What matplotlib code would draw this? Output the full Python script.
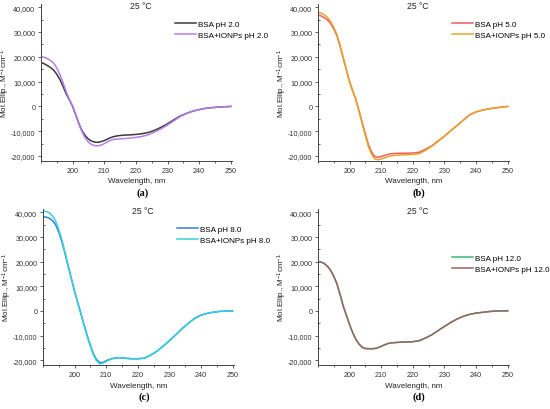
import matplotlib
matplotlib.use("Agg")
import matplotlib.pyplot as plt
from matplotlib.ticker import MultipleLocator, FuncFormatter

plt.rcParams['font.family'] = ['Liberation Sans', 'DejaVu Sans']
plt.rcParams['mathtext.default'] = 'regular'

# wavelength grid, nm (1 nm steps in the steep part, 2 nm after)
wl = [190, 191, 192, 193, 194, 195, 196, 197, 198, 199, 200, 201, 202, 203, 204, 205,
      206, 207, 208, 209, 210, 211, 212, 213, 214,
      216, 218, 220, 222, 224, 226, 228, 230, 232, 234, 236, 238, 240, 242, 244, 246, 248, 250]

# (a) pH 2.0
bsa_ph2 = [17800, 17200, 16500, 15700, 14600, 13000, 10800, 8000, 5000, 2600, 0, -3500,
           -7000, -9900, -11800, -13200, -14000, -14400, -14500, -14200, -13800, -13200,
           -12600, -12200, -11900,
           -11600, -11500, -11300, -11000, -10500, -9600, -8400, -7000, -5400, -3900, -2800,
           -1900, -1300, -800, -500, -300, -150, 0]
ionp_ph2 = [20200, 19800, 19300, 18500, 17500, 15500, 12800, 9500, 5800, 2800, 300, -3300,
            -7200, -10300, -12800, -14400, -15400, -15800, -15900, -15600, -15000, -14300,
            -13700, -13300, -13200,
            -13000, -12800, -12500, -12100, -11400, -10300, -9000, -7500, -5800, -4100, -2900,
            -1900, -1300, -800, -500, -300, -150, 0]

# (b) pH 5.0
bsa_ph5 = [36900, 36500, 35800, 34900, 33500, 31300, 28500, 24300, 19500, 14700, 10000, 6300,
           2800, -1700, -6500, -11200, -15500, -18500, -20200, -20500, -20200, -19800,
           -19400, -19100, -19000,
           -18900, -18900, -18800, -18500, -17300, -15900, -13900, -12000, -9800, -7700, -5500,
           -3400, -2200, -1500, -1000, -600, -300, 0]
ionp_ph5 = [38000, 37600, 37000, 35900, 34300, 31900, 29000, 24700, 19800, 14900, 10000, 6200,
            2600, -2000, -7000, -11900, -16300, -19400, -21200, -21500, -21200, -20800,
            -20300, -20000, -19800,
            -19600, -19500, -19400, -19100, -17700, -16100, -14100, -12000, -9800, -7700, -5500,
            -3400, -2200, -1500, -1000, -600, -300, 0]

# (c) pH 8.0
bsa_ph8 = [38200, 38000, 37600, 36600, 35000, 32000, 28000, 23200, 18000, 13000, 8000, 3400,
           -1000, -5600, -10000, -14000, -17500, -19800, -21000, -20900, -20200, -19700,
           -19300, -19100, -19000,
           -19200, -19400, -19400, -19200, -18000, -16400, -14300, -12100, -9700, -7200, -5000,
           -3000, -1700, -1000, -500, -200, -100, 0]
ionp_ph8 = [40500, 40300, 39800, 38500, 36500, 33000, 28800, 23700, 18300, 13100, 8000, 3400,
            -1100, -5800, -10300, -14400, -17900, -20300, -21500, -21200, -20500, -19900,
            -19400, -19100, -19000,
            -19200, -19400, -19400, -19200, -18000, -16400, -14300, -12100, -9700, -7200, -5000,
            -3000, -1700, -1000, -500, -200, -100, 0]

# (d) pH 12.0
bsa_ph12 = [20000, 19800, 19200, 18100, 16500, 14100, 11000, 6700, 2000, -1800, -5500, -8800,
            -11500, -13400, -14700, -15200, -15300, -15300, -15200, -14900, -14400, -13800,
            -13300, -13000, -12900,
            -12700, -12600, -12500, -12100, -11000, -9700, -8000, -6300, -4700, -3300, -2200,
            -1400, -900, -600, -300, -100, 0, 0]
ionp_ph12 = [20000, 19800, 19200, 18100, 16500, 14100, 11000, 6700, 2000, -1800, -5500, -8900,
             -11600, -13500, -14800, -15300, -15400, -15400, -15300, -14900, -14400, -13800,
             -13300, -13000, -12900,
             -12700, -12600, -12500, -12100, -11000, -9700, -8000, -6300, -4700, -3300, -2200,
             -1400, -900, -600, -300, -100, 0, 0]

panels = [
    ("(a)", "2.0", bsa_ph2, ionp_ph2, "#3a3a3a", "#b77cf0", [0.0745, 0.605, 0.348, 0.384], (0.70, 0.895)),
    ("(b)", "5.0", bsa_ph5, ionp_ph5, "#f25c5c", "#e5a52a", [0.578, 0.605, 0.348, 0.384], (0.70, 0.895)),
    ("(c)", "8.0", bsa_ph8, ionp_ph8, "#3c78d8", "#35d0dc", [0.078, 0.107, 0.348, 0.382], (0.70, 0.895)),
    ("(d)", "12.0", bsa_ph12, ionp_ph12, "#3cb878", "#9a6464", [0.578, 0.107, 0.348, 0.382], (0.70, 0.71)),
]

fig = plt.figure(figsize=(5.5, 4.1), dpi=100)

for tag, ph, y1, y2, c1, c2, pos, leg_anchor in panels:
    ax = fig.add_axes(pos)
    ax.plot(wl, y1, color=c1, lw=1.1, label=f"BSA pH {ph}")
    ax.plot(wl, y2, color=c2, lw=1.1, label=f"BSA+IONPs pH {ph}")

    ax.set_xlim(190, 250.5)
    ax.set_ylim(-22000, 41500)
    ax.xaxis.set_minor_locator(MultipleLocator(5))
    ax.yaxis.set_major_locator(MultipleLocator(10000))
    ax.yaxis.set_minor_locator(MultipleLocator(5000))
    ax.set_xticks([200, 210, 220, 230, 240, 250])
    ax.yaxis.set_major_formatter(FuncFormatter(lambda v, p: f"{int(v):,}"))

    for side in ("top", "right"):
        ax.spines[side].set_visible(False)
    for side in ("left", "bottom"):
        ax.spines[side].set_linewidth(0.7)
        ax.spines[side].set_color("#444444")

    ax.tick_params(axis="both", which="major", labelsize=5.2, labelcolor="#333333",
                   color="#444444", width=0.6, length=2.5, pad=1.5)
    ax.tick_params(axis="x", which="minor", direction="out", length=1.5, width=0.6, color="#444444")
    ax.tick_params(axis="y", which="minor", direction="in", length=1.5, width=0.6, color="#444444")

    ax.set_xlabel("Wavelength, nm", fontsize=5.8, color="#222222")
    ax.set_ylabel("Mol.Ellip., M$^{-1}$cm$^{-1}$", fontsize=5.8, color="#222222")
    ax.xaxis.set_label_coords(0.5, -0.105)
    ax.yaxis.set_label_coords(-0.15, 0.5)

    ax.text(0.52, 0.985, "25 °C", transform=ax.transAxes, ha="center", va="center",
            fontsize=6.2, color="#222222")

    ax.legend(loc="upper left", bbox_to_anchor=leg_anchor, frameon=False, fontsize=5.8,
              handlelength=2.6, handletextpad=0.3, labelspacing=0.45, borderpad=0,
              borderaxespad=0)

    fig.text(pos[0] + pos[2] / 2 + 0.01, pos[1] - 0.075, tag, ha="center", va="center",
             fontsize=7.5, fontweight="bold", family=["Liberation Serif", "DejaVu Serif"])

fig.savefig("out.png", dpi=100, facecolor="white")
